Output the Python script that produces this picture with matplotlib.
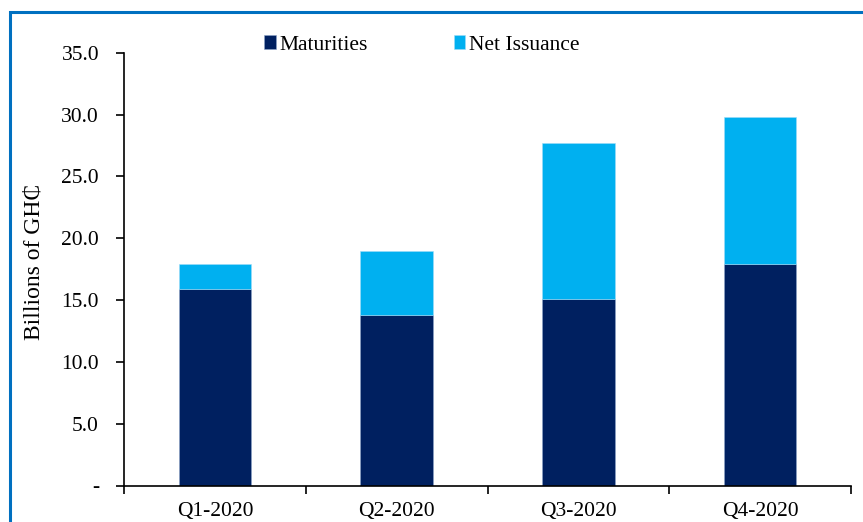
import matplotlib
matplotlib.use("Agg")
import matplotlib.pyplot as plt
from matplotlib.patches import Rectangle
import numpy as np

# Quarterly values, billions of GH₵
quarters = ["Q1-2020", "Q2-2020", "Q3-2020", "Q4-2020"]
maturities = [15.9, 13.8, 15.1, 17.9]
net_issuance = [2.0, 5.2, 12.6, 11.9]
y_ticks = [0, 5, 10, 15, 20, 25, 30, 35]
y_tick_labels = ["-", "5.0", "10.0", "15.0", "20.0", "25.0", "30.0", "35.0"]

navy = "#002060"
sky = "#00B0F0"
frame_blue = "#0070C0"

plt.rcParams["font.family"] = ["Liberation Serif", "DejaVu Serif"]

fig = plt.figure(figsize=(8.63, 5.22), dpi=100)
ax = fig.add_axes([124 / 863, 1 - 485.5 / 522, (851 - 124) / 863, (485.5 - 52.7) / 522])

x = np.arange(len(quarters))
width = 0.4
ax.bar(x, maturities, width, color=navy, label="Maturities",
       edgecolor="#8fa6c9", linewidth=0.4)
ax.bar(x, net_issuance, width, bottom=maturities, color=sky, label="Net Issuance",
       edgecolor="#9fdcf7", linewidth=0.4)

ax.set_xlim(-0.5, len(quarters) - 0.5)
ax.set_ylim(0, 35)

# y axis
ax.set_yticks(y_ticks)
ax.set_yticklabels(y_tick_labels, fontsize=15.5)
ax.tick_params(axis="y", direction="out", length=6, width=1.2, pad=12)

# x axis: labels centred under bars, tick marks on category boundaries
ax.set_xticks(x)
ax.set_xticklabels(quarters, fontsize=15.5)
ax.tick_params(axis="x", which="major", length=0, pad=12)
ax.set_xticks(np.arange(-0.5, len(quarters)), minor=True)
ax.tick_params(axis="x", which="minor", direction="out", length=6, width=1.2)

for side in ["top", "right"]:
    ax.spines[side].set_visible(False)
for side in ["left", "bottom"]:
    ax.spines[side].set_linewidth(1.2)

fig.text(34 / 863, 1 - 262 / 522, "Billions of GH\u20b5", rotation=90,
         fontsize=17, ha="center", va="center")

ax.legend(loc="center left", bbox_to_anchor=(264 / 863, 1 - 45 / 522),
          bbox_transform=fig.transFigure, ncol=2, frameon=False, fontsize=15.5,
          handlelength=0.55, handleheight=0.6, handletextpad=0.15,
          columnspacing=4.0, borderpad=0, borderaxespad=0)

# surrounding frame
fig.patches.append(Rectangle((10 / 863, -0.05), 1.2, 1 - 12 / 522 + 0.05,
                             transform=fig.transFigure, fill=False,
                             edgecolor=frame_blue, linewidth=2.2))

fig.savefig("out.png", dpi=100)
